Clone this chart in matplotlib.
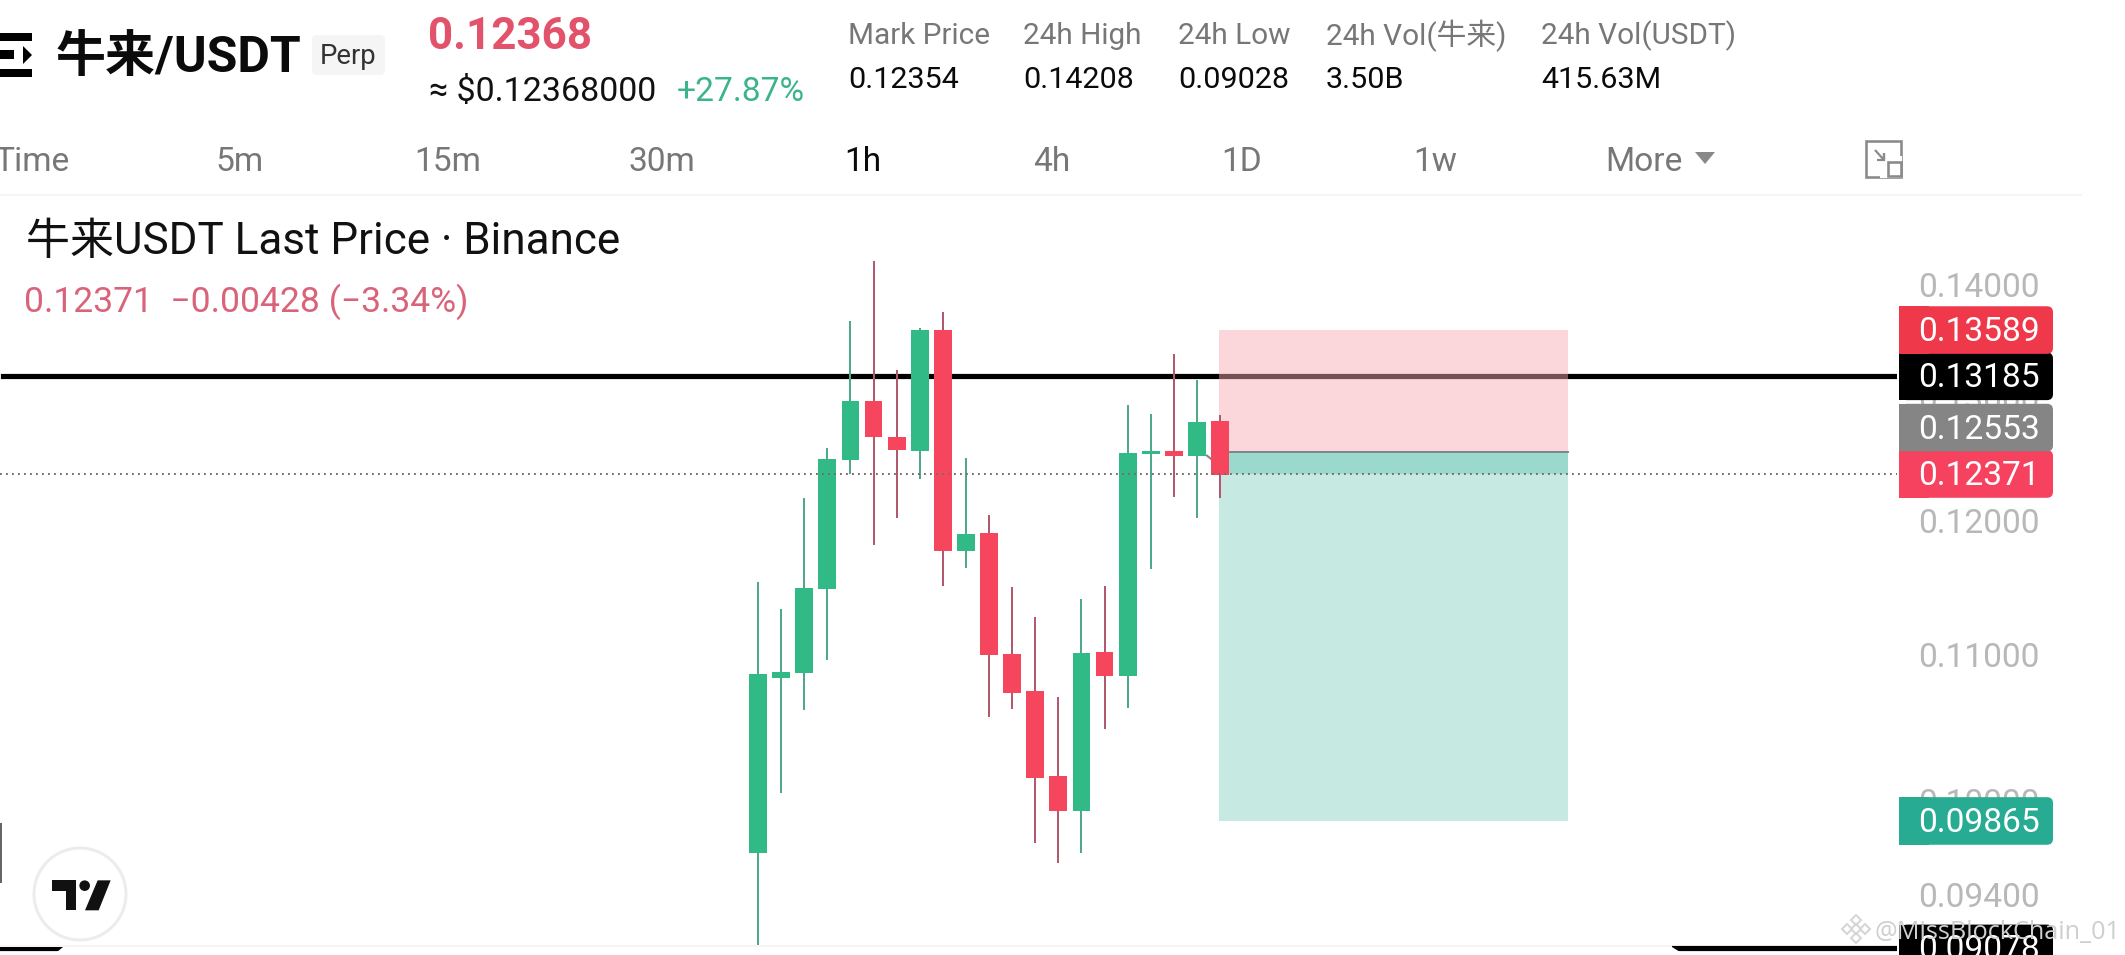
import matplotlib
matplotlib.use("Agg")
import matplotlib.pyplot as plt
from matplotlib.patches import Rectangle, FancyBboxPatch, Polygon, Circle

W, H = 2125, 955
# ---- data ----
opens  = [.09663,.10832,.10867,.11479,.12487,.12974,.12673,.12561,.13589,.11767,.11904,.11000,.10738,.10159,.09932,.11015,.10844,.12536,.12558,.12517,.12806]
highs  = [.11527,.11328,.12176,.12580,.13669,.14215,.13237,.13604,.13750,.12498,.12042,.11492,.11269,.10696,.11400,.11499,.12941,.12865,.13376,.13153,.12856]
lows   = [.09089,.10045,.10608,.10955,.12371,.11813,.12023,.12333,.11502,.11638,.10560,.10615,.09726,.09600,.09663,.10477,.10622,.11630,.12189,.12023,.12181]
closes = [.10858,.10870,.11484,.12493,.12974,.12676,.12569,.13589,.11767,.11896,.10995,.10726,.10148,.09932,.11008,.10844,.12542,.12558,.12517,.12798,.12363]
tick_vals = [.14, .13, .12, .11, .10, .094]
tick_labels = ["0.14000", "0.13000", "0.12000", "0.11000", "0.10000", "0.09400"]
stop_price, line_price, entry_price, last_price, target_price, low_line_price = .13589, .13185, .12553, .12371, .09865, .09078
stat_labels = ["Mark Price", "24h High", "24h Low", "24h Vol(牛来)", "24h Vol(USDT)"]
stat_values = ["0.12354", "0.14208", "0.09028", "3.50B", "415.63M"]
tabs = ["Time", "5m", "15m", "30m", "1h", "4h", "1D", "1w", "More"]

FONT = ['Roboto', 'Noto Sans CJK SC', 'DejaVu Sans']
plt.rcParams['font.family'] = FONT
GREEN, RED, WICK_G, WICK_R = '#31ba86', '#f6465d', '#4fa78e', '#b2596d'
PX = 0.72  # pt per pixel at dpi 100

fig = plt.figure(figsize=(W/100, H/100), dpi=100, facecolor='white')
AX_R = 1897
ax = fig.add_axes([0, 0, AX_R/W, 1])
STEP, X0 = 23.1, 758.0
ax.set_yscale('log')
ax.set_ylim(.09039, .16854)
ax.set_xlim(-X0/STEP, (AX_R-X0)/STEP)
ax.set_xticks([])
ax.set_yticks(tick_vals)
ax.set_yticklabels(tick_labels)
ax.yaxis.set_minor_locator(matplotlib.ticker.NullLocator())
ax.yaxis.tick_right()
ax.tick_params(axis='y', length=0, pad=20.7*PX, labelsize=33.5*PX, labelcolor='#b8b8b8')
for s in ax.spines.values():
    s.set_visible(False)

def T(x, y, s, size, color='#111111', ha='left', va='center', weight='normal', family=None, z=20):
    return fig.text(x/W, 1-y/H, s, fontsize=size*PX, color=color, ha=ha, va=va, weight=weight,
                    family=family or FONT, zorder=z)

# horizontal levels
ax.axhline(line_price, xmin=3/AX_R, color='black', lw=5.2*PX, zorder=1)
ax.axhline(low_line_price, color='black', lw=5.2*PX, zorder=1)

# position rectangle
xl = (1219-X0)/STEP
xr = (1568-X0)/STEP
ax.add_patch(Rectangle((xl, entry_price), xr-xl, stop_price-entry_price, fc='#f7a9b1', alpha=.47, ec='none', zorder=2))
ax.add_patch(Rectangle((xl, target_price), xr-xl, entry_price-target_price, fc='#c6e9e2', ec='none', zorder=2))
ax.add_patch(Rectangle((xl, last_price), xr-xl, entry_price-last_price, fc='#9cd9cd', ec='none', zorder=2.1))
ax.plot([xl, xr], [entry_price]*2, color='#7a8a88', lw=2*PX, zorder=2.2)

# candles
for i, (o, h, l, c) in enumerate(zip(opens, highs, lows, closes)):
    up = c >= o
    ax.plot([i, i], [l, h], color=WICK_G if up else WICK_R, lw=2*PX, solid_capstyle='butt', zorder=3)
    ax.bar(i, abs(c-o), bottom=min(o, c), width=17.8/STEP, color=GREEN if up else RED, zorder=3.2)

# last price dotted line
ax.axhline(last_price, color='#7d6a6f', lw=2*PX, ls=(0, (0.9, 2.1)), zorder=4)
# small grey arrow
ax.plot([(1207-X0)/STEP, (1213-X0)/STEP], [.12520, .12480], color='#8c7e80', lw=2*PX, zorder=3.1)

# white panel at the bottom, with slanted shoulders over the black level line
fig.add_artist(Polygon([[57, 0], [57, 3], [63, 8], [1672, 8], [1680, 3], [1680, 0]], closed=True, transform=None,
                       fc='white', ec='none', zorder=5))
fig.add_artist(Rectangle((0, 8), 1672, 2, transform=None, fc='#f4f4f4', ec='none', zorder=4.9))
fig.add_artist(Rectangle((0, 0), 57, 3, transform=None, fc='white', ec='none', zorder=5))
fig.add_artist(Rectangle((1680, 0), 240, 3, transform=None, fc='white', ec='none', zorder=5))

# price tags
tag_x0, tag_x1, tag_h = 1899, 2053, 47.6
def tag(price, col, txt, dy=0, tcol='white'):
    yc = ax.transData.transform((0, price))[1] + dy
    fig.add_artist(FancyBboxPatch((tag_x0+2, yc-tag_h/2), tag_x1-tag_x0-2, tag_h,
                   boxstyle='round,pad=0,rounding_size=6', transform=None, fc=col, ec='none', zorder=8))
    fig.add_artist(Rectangle((tag_x0, yc-tag_h/2), 30, tag_h, transform=None, fc=col, ec='none', zorder=8))
    fig.text(1917.7/W, (yc-2)/H, txt, fontsize=33.5*PX, color=tcol, ha='left', va='center', zorder=9)

tag(low_line_price, '#000000', "0.09078")
tag(target_price, '#27ab93', "0.09865")
tag(last_price, '#f6415f', "0.12371")
tag(entry_price, '#858585', "0.12553", dy=24)
tag(line_price, '#000000', "0.13185")
tag(stop_price, '#f0384b', "0.13589")

# header
fig.add_artist(Rectangle((0, H-41), 32, 8, transform=None, fc='black', ec='none', zorder=20))
fig.add_artist(Rectangle((0, H-77), 32, 8, transform=None, fc='black', ec='none', zorder=20))
fig.add_artist(Rectangle((0, H-59), 14, 9, transform=None, fc='black', ec='none', zorder=20))
fig.add_artist(Polygon([[23, H-46], [32, H-55], [23, H-64]], closed=True, transform=None, fc='black', ec='none', zorder=20))

T(56, 58, "牛来/USDT", 50, color='#0b0b0b', weight='bold')
fig.add_artist(FancyBboxPatch((312, H-75), 73, 40, boxstyle='round,pad=0,rounding_size=5', transform=None,
                              fc='#f5f5f5', ec='none', zorder=15))
T(348, 56, "Perp", 27.5, color='#333333', ha='center')
T(428, 37, "0.12368", 44, color='#e2526b', weight='bold')
T(429, 92, "≈ $0.12368000", 34, color='#111111')
T(677, 92, "+27.87%", 33.5, color='#3cb48a')

stat_x = [848, 1023, 1178, 1326, 1541]
for x, a, b in zip(stat_x, stat_labels, stat_values):
    T(x, 36, a, 29.8, color='#777777')
    T(x, 80, b, 30.5, color='#0a0a0a')

tab_x = [-6, 215, 414, 628, 844, 1033, 1221, 1413, 1605]
for x, s in zip(tab_x, tabs):
    T(x, 162, s, 33.5, color='#0a0a0a' if s == '1h' else '#777777')
fig.add_artist(Polygon([[1695, H-152], [1715, H-152], [1705, H-164]], closed=True, transform=None, fc='#888888', ec='none', zorder=20))
# layout icon
fig.add_artist(Rectangle((1866, H-177), 35, 36, transform=None, fc='none', ec='#8a8a8a', lw=2.6*PX, zorder=20))
fig.add_artist(Rectangle((1880, H-178), 22, 22, transform=None, fc='white', ec='none', zorder=20.1))
fig.add_artist(Rectangle((1888, H-176), 13, 14, transform=None, fc='white', ec='#8a8a8a', lw=2.6*PX, zorder=20.2))
fig.add_artist(Polygon([[1875, H-150], [1884, H-160], [1884, H-153], [1884, H-160], [1877, H-160]], closed=False, transform=None, fc='none', ec='#8a8a8a', lw=2.2*PX, zorder=20.2))

fig.add_artist(Rectangle((0, H-196), 2082, 2, transform=None, fc='#f4f4f4', ec='none', zorder=15))

T(26, 242, "牛来USDT Last Price · Binance", 44, color='#111111')
T(24, 302, "0.12371  −0.00428 (−3.34%)", 35.5, color='#d9647a')

# TradingView badge
fig.add_artist(Circle((80, H-894), 46, transform=None, fc='white', ec='#ececec', lw=3*PX, zorder=20))
def lg(pts):
    return [[x/3, H-800-y/3] for x, y in pts]
fig.add_artist(Polygon(lg([(155,241),(228,241),(228,331),(197,331),(197,273),(155,273)]), closed=True, transform=None, fc='#111111', ec='none', zorder=21))
fig.add_artist(Polygon(lg([(293,241),(332,241),(296,331),(255,331)]), closed=True, transform=None, fc='#111111', ec='none', zorder=21))
fig.add_artist(Circle((254/3, H-800-257/3), 5.3, transform=None, fc='#111111', ec='none', zorder=21))
fig.add_artist(Rectangle((0, H-883), 1.5, 60, transform=None, fc='#666666', ec='none', zorder=21))

# watermark
for dx, dy in [(-9, 0), (9, 0), (0, -9), (0, 9), (0, 0)]:
    fig.add_artist(Polygon([[1856+dx-5, H-929+dy], [1856+dx, H-929+dy+5], [1856+dx+5, H-929+dy], [1856+dx, H-929+dy-5]],
                           closed=True, transform=None, fc='none', ec='#d6d6d6', lw=2*PX, zorder=30))
T(1874, 932, "@MissBlockChain_01", 25.3, color='#cfcfcf', family='Open Sans', z=30)

fig.savefig('out.png', dpi=100, facecolor='white')
